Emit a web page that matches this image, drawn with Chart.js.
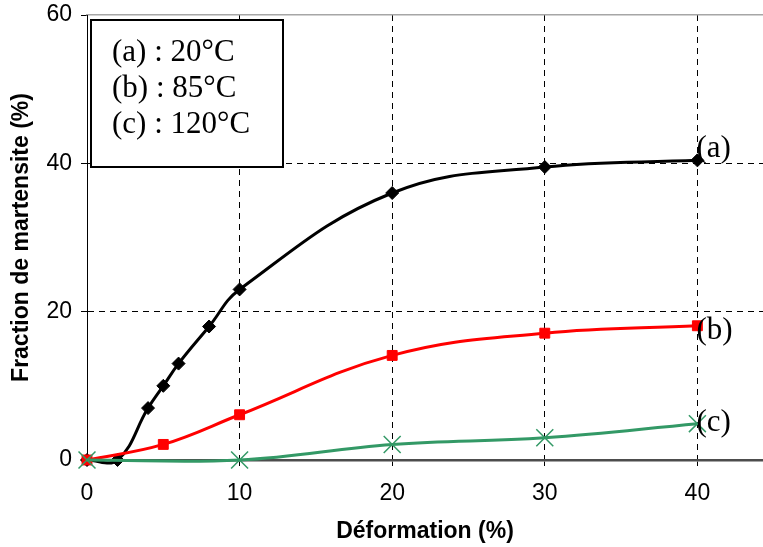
<!DOCTYPE html>
<html>
<head>
<meta charset="utf-8">
<script src="https://cdn.jsdelivr.net/npm/chart.js@4/dist/chart.umd.min.js"></script>
<style>
  html, body { margin: 0; padding: 0; background: #fff; }
  #wrap { width: 763px; height: 547px; }
</style>
</head>
<body>
<div id="wrap"><canvas id="c" width="763" height="547"></canvas></div>
<script>
// ---- data ----
const strainA = [0, 2, 4, 5, 6, 8, 10, 20, 30, 40];
const fracA   = [0, 0, 7, 10, 13, 18, 23, 36, 39.5, 40.4];
const strainB = [0, 5, 10, 20, 30, 40];
const fracB   = [0, 2.1, 6.1, 14.1, 17.1, 18.1];
const strainC = [0, 10, 20, 30, 40];
const fracC   = [0, 0, 2.1, 3.0, 4.9];
const xTicks = [0, 10, 20, 30, 40];
const yTicks = [0, 20, 40, 60];
const seriesTags = ['(a)', '(b)', '(c)'];
const legendLines = ['(a) : 20°C', '(b) : 85°C', '(c) : 120°C'];
const xTitle = 'Déformation (%)';
const yTitle = 'Fraction de martensite (%)';

const pts = (xs, ys) => xs.map((x, i) => ({ x: x, y: ys[i] }));

const serif = '"Liberation Serif", "Times New Roman", serif';
const sans = '"Liberation Sans", Arial, sans-serif';

const annot = {
  id: 'annot',
  afterDraw(chart) {
    const ctx = chart.ctx;
    const xs = chart.scales.x, ys = chart.scales.y;
    ctx.save();
    // legend box
    ctx.fillStyle = '#fff';
    ctx.fillRect(91, 20, 192, 147);
    ctx.strokeStyle = '#000';
    ctx.lineWidth = 2;
    ctx.strokeRect(91, 20, 192, 147);
    ctx.fillStyle = '#000';
    ctx.font = '31px ' + serif;
    ctx.textAlign = 'left';
    ctx.textBaseline = 'alphabetic';
    const base = [61, 97, 133];
    legendLines.forEach((t, i) => ctx.fillText(t, 112, base[i]));
    // end-of-curve tags
    const lasts = [fracA[fracA.length - 1], fracB[fracB.length - 1], fracC[fracC.length - 1]];
    const lastX = [strainA[strainA.length - 1], strainB[strainB.length - 1], strainC[strainC.length - 1]];
    const offs = [-3, 13, 7];
    seriesTags.forEach((t, i) => {
      ctx.fillText(t, xs.getPixelForValue(lastX[i]) - 1, ys.getPixelForValue(lasts[i]) + offs[i]);
    });
    ctx.restore();
  }
};

new Chart(document.getElementById('c'), {
  type: 'line',
  data: {
    datasets: [
      {
        label: seriesTags[0], data: pts(strainA, fracA),
        borderColor: '#000', backgroundColor: '#000', borderWidth: 3,
        pointStyle: 'rectRot', pointRadius: 6.5, pointBorderWidth: 1,
        tension: 0.4, clip: false, order: 3
      },
      {
        label: seriesTags[1], data: pts(strainB, fracB),
        borderColor: '#ff0000', backgroundColor: '#ff0000', borderWidth: 3,
        pointStyle: 'rect', pointRadius: 7, pointBorderWidth: 1,
        tension: 0.4, clip: false, order: 2
      },
      {
        label: seriesTags[2], data: pts(strainC, fracC),
        borderColor: '#339966', backgroundColor: '#339966', borderWidth: 3,
        pointStyle: 'crossRot', pointRadius: 12, pointBorderWidth: 1.5,
        pointBorderColor: '#339966',
        tension: 0.4, clip: false, order: 1
      }
    ]
  },
  options: {
    responsive: false,
    animation: false,
    events: [],
    layout: { autoPadding: false, padding: { top: 15, right: 0, left: 0, bottom: 0 } },
    elements: { line: { capBezierPoints: false } },
    plugins: { legend: { display: false }, tooltip: { enabled: false } },
    scales: {
      x: {
        type: 'linear', position: 'bottom', min: 0, max: 44.3,
        afterBuildTicks: s => { s.ticks = xTicks.map(v => ({ value: v })); },
        afterFit: s => { s.height = 87; s.paddingRight = 0; s.paddingLeft = 0; },
        ticks: { color: '#000', font: { family: sans, size: 23 }, padding: 14, maxRotation: 0 },
        grid: {
          color: c => (c.tick && c.tick.value > 0) ? '#000' : 'rgba(0,0,0,0)',
          tickColor: '#000', tickLength: 6, lineWidth: 1, tickBorderDash: []
        },
        border: { display: true, color: '#4d4d4d', width: 2.5, dash: [6, 5] },
        title: { display: true, text: xTitle, color: '#000', font: { family: sans, size: 23, weight: 'bold' }, padding: { top: 0, bottom: 2 } }
      },
      x2: {
        type: 'linear', position: 'top', min: 0, max: 44.3,
        afterFit: s => { s.height = 0; s.paddingRight = 0; s.paddingLeft = 0; },
        ticks: { display: false },
        grid: { display: false, drawTicks: false },
        border: { display: true, color: '#a6a6a6', width: 1.5 }
      },
      y: {
        type: 'linear', position: 'left', min: 0, max: 60,
        afterBuildTicks: s => { s.ticks = yTicks.map(v => ({ value: v })); },
        afterFit: s => { s.width = 87; s.paddingTop = 0; s.paddingBottom = 0; },
        ticks: { color: '#000', font: { family: sans, size: 23 }, padding: 9 },
        grid: {
          color: c => (c.tick && (c.tick.value === 20 || c.tick.value === 40)) ? '#000' : 'rgba(0,0,0,0)',
          tickColor: '#000', tickLength: 6, lineWidth: 1, tickBorderDash: []
        },
        border: { display: true, color: '#000', width: 1, dash: [6, 5] },
        title: { display: true, text: yTitle, color: '#000', font: { family: sans, size: 23, weight: 'bold' }, padding: { top: 8, bottom: 0 } }
      }
    }
  },
  plugins: [annot]
});
</script>
</body>
</html>
